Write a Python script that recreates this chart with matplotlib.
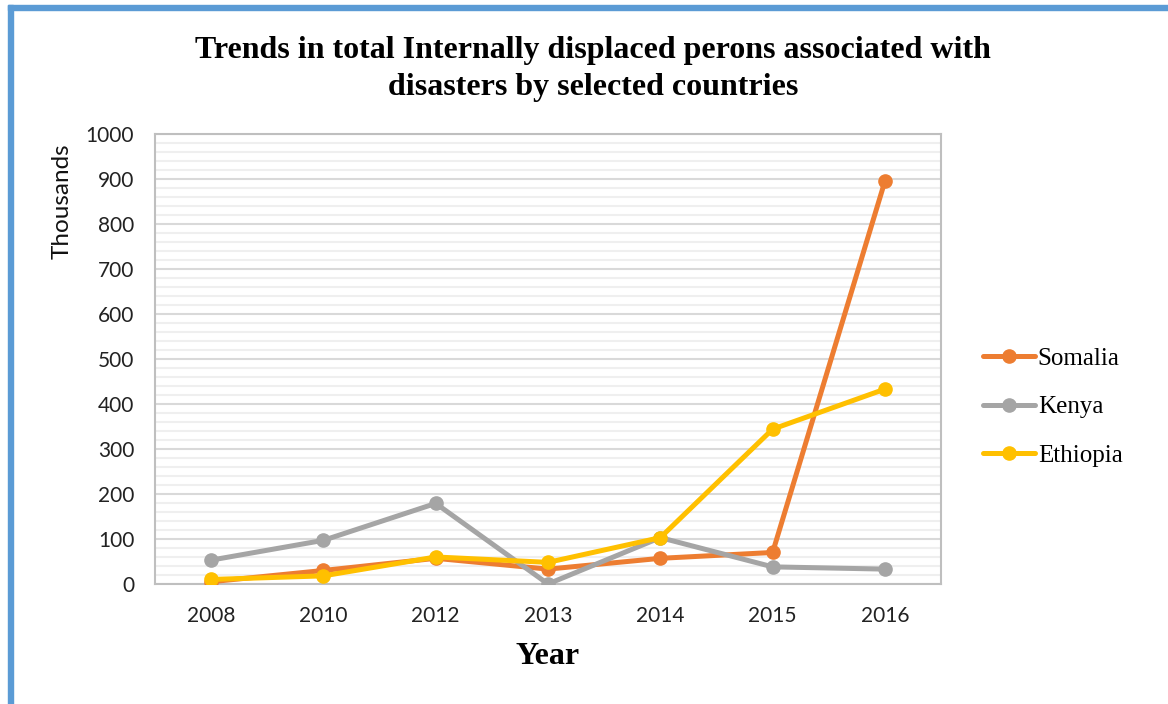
import matplotlib.pyplot as plt
from matplotlib.patches import Rectangle
from matplotlib.ticker import MultipleLocator

years = ['2008', '2010', '2012', '2013', '2014', '2015', '2016']
somalia = [5, 30, 57, 33, 57, 70, 895]
kenya = [53, 97, 179, 0, 103, 38, 33]
ethiopia = [10, 18, 60, 48, 103, 344, 433]

series_names = ['Somalia', 'Kenya', 'Ethiopia']
series_colors = ['#ED7D31', '#A5A5A5', '#FFC000']

fig = plt.figure(figsize=(11.68, 7.04), dpi=100)
ax = fig.add_axes([0.1327, 0.1705, 0.673, 0.6392])

x = list(range(len(years)))
for vals, name, col in zip([somalia, kenya, ethiopia], series_names, series_colors):
    ax.plot(x, vals, color=col, lw=3.6, marker='o', ms=9.5, label=name,
            solid_capstyle='round', zorder=3)

ax.set_xlim(-0.5, len(years) - 0.5)
ax.set_ylim(0, 1000)
ax.set_xticks(x)
ax.set_xticklabels(years)
ax.yaxis.set_major_locator(MultipleLocator(100))
ax.yaxis.set_minor_locator(MultipleLocator(20))
ax.grid(axis='y', which='major', color='#D9D9D9', lw=1.5)
ax.grid(axis='y', which='minor', color='#EFEFEF', lw=1.5)
ax.set_axisbelow(True)
ax.tick_params(axis='y', which='both', length=0, labelsize=15, colors='#222222', pad=15)
ax.tick_params(axis='x', which='both', length=0, labelsize=15, colors='#222222', pad=16)
for lab in ax.get_xticklabels() + ax.get_yticklabels():
    lab.set_fontfamily('Lato')
for s in ax.spines.values():
    s.set_color('#BFBFBF')
    s.set_linewidth(1.5)

fig.text(62 / 1168, 1 - 201 / 704, 'Thousands', rotation=90, ha='center', va='center',
         fontfamily='Lato', fontsize=17.5, color='#111111')
fig.text(548 / 1168, 1 - 657 / 704, 'Year', ha='center', va='center',
         fontfamily='Liberation Serif', fontweight='bold', fontsize=23)

fig.text(0.508, 0.902, 'Trends in total Internally displaced perons associated with\ndisasters by selected countries',
         ha='center', va='center', fontfamily='Liberation Serif', fontweight='bold', fontsize=23,
         linespacing=1.33)

leg = ax.legend(loc='center left', bbox_to_anchor=(1.053, 0.393), frameon=False,
                prop={'family': 'Liberation Serif', 'size': 18}, handlelength=2.1,
                handletextpad=0.1, labelspacing=1.05, borderpad=0, borderaxespad=0)

# blue frame along the top and left edge
fig.patches.append(Rectangle((0.007, 0.986), 1.0, 0.007, transform=fig.transFigure,
                             color='#5B9BD5', zorder=10))
fig.patches.append(Rectangle((0.007, -0.01), 0.0045, 1.003, transform=fig.transFigure,
                             color='#5B9BD5', zorder=10))

fig.savefig('out.png', dpi=100)
